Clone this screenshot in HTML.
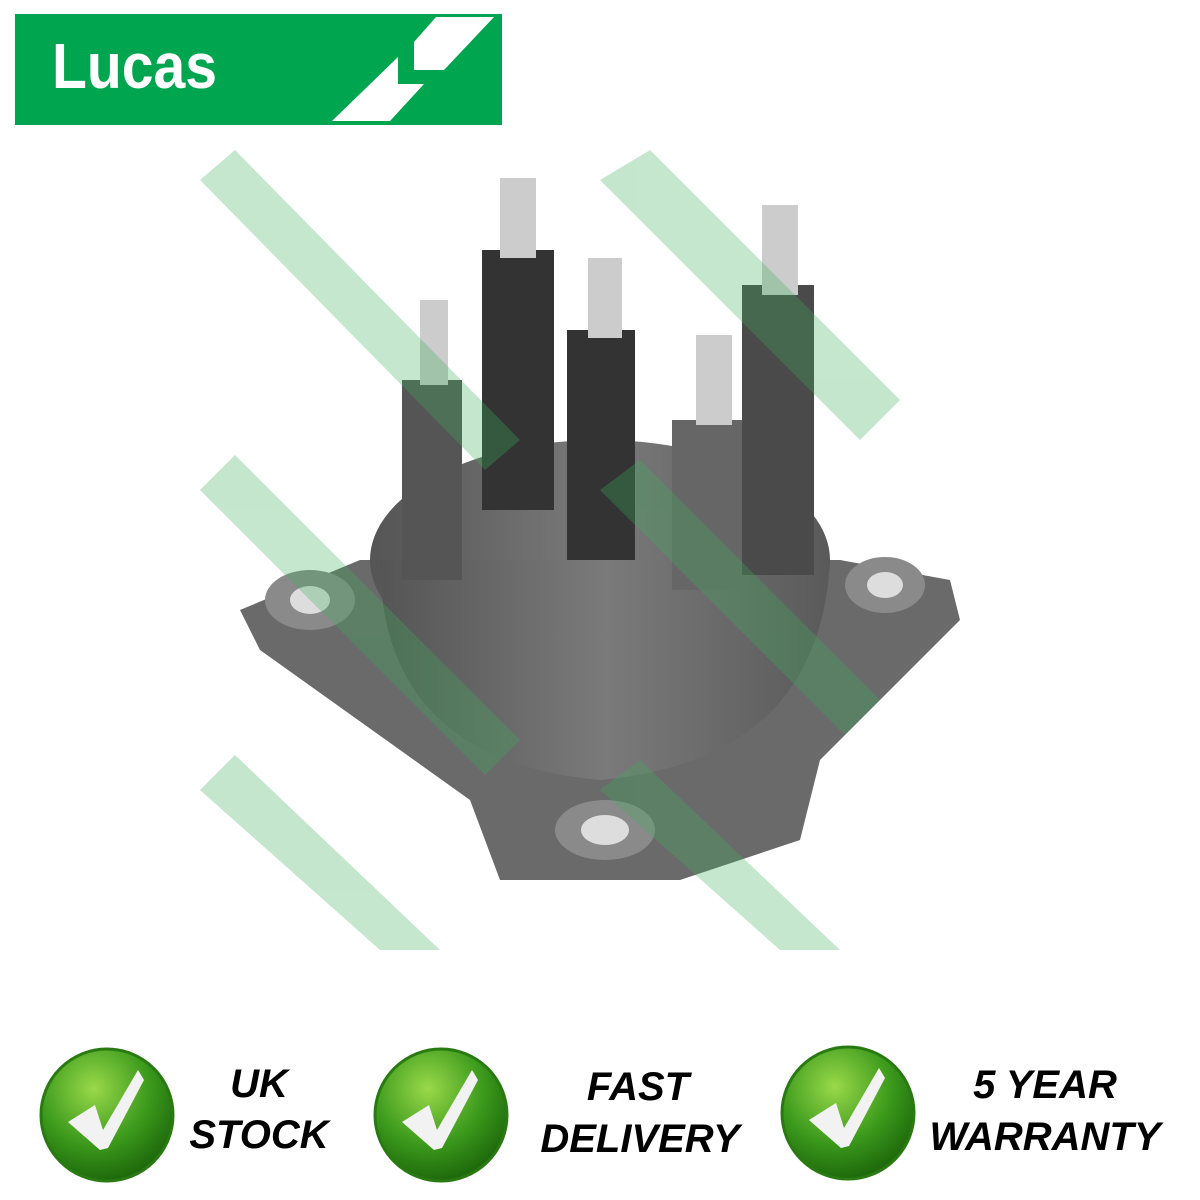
<!DOCTYPE html>
<html><head><style>
html,body{margin:0;padding:0;background:#fff;}
svg{display:block}
text{font-family:"Liberation Sans",sans-serif;}
</style></head><body>
<svg width="1200" height="1200" viewBox="0 0 1200 1200" xmlns="http://www.w3.org/2000/svg">
<defs>
<radialGradient id="g" cx="40%" cy="30%" r="70%">
<stop offset="0" stop-color="#9ad94a"/><stop offset="0.6" stop-color="#3c9a1c"/><stop offset="1" stop-color="#1e6a0c"/>
</radialGradient>
<linearGradient id="body" x1="0" x2="1">
<stop offset="0" stop-color="#555"/><stop offset="0.5" stop-color="#7a7a7a"/><stop offset="1" stop-color="#5a5a5a"/>
</linearGradient>
</defs>
<rect x="15" y="14" width="487" height="111" fill="#00a550"/>
<text x="52" y="88" font-size="64" font-weight="bold" fill="#fff" textLength="165" lengthAdjust="spacingAndGlyphs">Lucas</text>
<polygon points="436,17 494,17 444,70 414,70 414,42" fill="#fff"/>
<polygon points="398,57 398,84 424,84 390,121 332,121" fill="#fff"/>
<g>
<polygon points="240,610 360,560 840,560 950,580 960,620 820,760 800,840 680,880 500,880 470,800 260,650" fill="#6a6a6a"/>
<ellipse cx="600" cy="560" rx="230" ry="120" fill="url(#body)"/>
<path d="M380,560 Q380,760 600,780 Q820,760 830,560 Z" fill="url(#body)"/>
<ellipse cx="310" cy="600" rx="45" ry="30" fill="#8a8a8a"/><ellipse cx="310" cy="600" rx="20" ry="14" fill="#ddd"/>
<ellipse cx="885" cy="585" rx="40" ry="28" fill="#8a8a8a"/><ellipse cx="885" cy="585" rx="18" ry="13" fill="#ddd"/>
<ellipse cx="605" cy="830" rx="50" ry="30" fill="#8a8a8a"/><ellipse cx="605" cy="830" rx="24" ry="15" fill="#ddd"/>
<rect x="402" y="380" width="60" height="200" fill="#555"/><rect x="420" y="300" width="28" height="85" fill="#ccc"/>
<rect x="482" y="250" width="72" height="260" fill="#333"/><rect x="500" y="178" width="36" height="80" fill="#ccc"/>
<rect x="567" y="330" width="68" height="230" fill="#333"/><rect x="588" y="258" width="34" height="80" fill="#ccc"/>
<rect x="672" y="420" width="78" height="170" fill="#666"/><rect x="696" y="335" width="36" height="90" fill="#ccc"/>
<rect x="742" y="285" width="72" height="290" fill="#4a4a4a"/><rect x="762" y="205" width="36" height="90" fill="#ccc"/>
</g>
<g fill="#3cb05a" opacity="0.3">
<polygon points="200,180 235,150 520,440 485,470"/>
<polygon points="600,180 650,150 900,400 860,440"/>
<polygon points="200,490 235,455 520,740 485,775"/>
<polygon points="600,490 640,460 880,700 845,735"/>
<polygon points="200,790 235,755 440,950 380,950"/>
<polygon points="600,790 640,760 840,950 780,950"/>
</g>
<circle cx="107" cy="1115" r="66" fill="url(#g)" stroke="#2a7a12" stroke-width="3"/>
<circle cx="441" cy="1115" r="66" fill="url(#g)" stroke="#2a7a12" stroke-width="3"/>
<circle cx="848" cy="1113" r="66" fill="url(#g)" stroke="#2a7a12" stroke-width="3"/>
<g fill="#f2f2f2">
<path d="M68,1122 L95,1105 L103,1130 L138,1070 L144,1080 L108,1148 L100,1150 Z"/>
<path d="M402,1122 L429,1105 L437,1130 L472,1070 L478,1080 L442,1148 L434,1150 Z"/>
<path d="M809,1120 L836,1103 L844,1128 L879,1068 L885,1078 L849,1146 L841,1148 Z"/>
</g>
<g font-weight="bold" font-style="italic" font-size="40" fill="#000" text-anchor="middle">
<text x="259" y="1097">UK</text>
<text x="259" y="1148">STOCK</text>
<text x="638" y="1100">FAST</text>
<text x="640" y="1152">DELIVERY</text>
<text x="1045" y="1098">5 YEAR</text>
<text x="1045" y="1150">WARRANTY</text>
</g>
</svg>
</body></html>
